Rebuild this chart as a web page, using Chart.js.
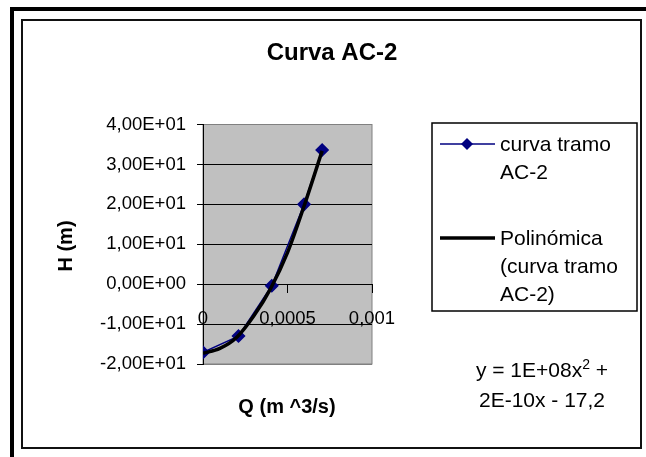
<!DOCTYPE html>
<html>
<head>
<meta charset="utf-8">
<script src="https://cdn.jsdelivr.net/npm/chart.js@4.4.0/dist/chart.umd.min.js"></script>
<style>
  html, body { margin: 0; padding: 0; background: #fff; }
  #wrap { width: 646px; height: 457px; position: relative; }
</style>
</head>
<body>
<div id="wrap"><canvas id="curveChart" width="646" height="457"></canvas></div>
<script>
// values
const chartTitle = 'Curva AC-2';
const xTitle = 'Q (m ^3/s)';
const yTitle = 'H (m)';
const seriesLabels = ['curva tramo AC-2', 'Polinómica (curva tramo AC-2)'];

const qValues = [0, 0.00021, 0.000407, 0.000598, 0.000705];
const hValues = [-17.1, -13.0, -0.4, 20.0, 33.6];

// trend line as drawn in the picture
const trendQ = [0, 0.0001, 0.0002, 0.0003, 0.0004, 0.0005, 0.0006, 0.000705];
const trendH = [-17.3, -16.1, -13.3, -8.0, -1.1, 7.9, 19.8, 33.4];

const yTickLabels = ['-2,00E+01', '-1,00E+01', '0,00E+00', '1,00E+01', '2,00E+01', '3,00E+01', '4,00E+01'];
const xTickLabels = ['0', '0,0005', '0,001'];

const equationLines = [['y = 1E+08x', '2', ' +'], ['2E-10x - 17,2']];

const FONT = '"Liberation Sans", Arial, sans-serif';
const NAVY = '#000080';

function wrapText(ctx, text, maxW) {
  const words = text.split(' ');
  const lines = [];
  let cur = '';
  words.forEach(w => {
    const test = cur ? cur + ' ' + w : w;
    if (ctx.measureText(test).width > maxW && cur) {
      lines.push(cur);
      cur = w;
    } else {
      cur = test;
    }
  });
  if (cur) lines.push(cur);
  return lines;
}

const decorPlugin = {
  id: 'decor',
  beforeDraw(chart) {
    const { ctx, chartArea: a } = chart;
    ctx.save();
    ctx.fillStyle = '#fff';
    ctx.fillRect(0, 0, chart.width, chart.height);
    // outer frame (top + left only visible)
    ctx.fillStyle = '#000';
    ctx.fillRect(10, 7, chart.width - 10, 4);
    ctx.fillRect(10, 7, 4, chart.height - 7);
    // inner frame
    ctx.strokeStyle = '#111';
    ctx.lineWidth = 2;
    ctx.strokeRect(22, 20, 619, 428);
    // plot area
    ctx.fillStyle = '#c0c0c0';
    ctx.fillRect(a.left, a.top, a.right - a.left, a.bottom - a.top);
    ctx.strokeStyle = '#808080';
    ctx.lineWidth = 1;
    ctx.strokeRect(a.left, a.top, a.right - a.left, a.bottom - a.top);
    ctx.restore();
  },
  afterDraw(chart) {
    const { ctx } = chart;
    ctx.save();
    ctx.fillStyle = '#000';

    // title
    ctx.font = 'bold 24px ' + FONT;
    ctx.textAlign = 'center';
    ctx.textBaseline = 'alphabetic';
    ctx.fillText(chartTitle, 332, 60);

    // axis titles
    ctx.font = 'bold 20px ' + FONT;
    ctx.fillText(xTitle, 287, 413);
    ctx.save();
    ctx.translate(72, 246);
    ctx.rotate(-Math.PI / 2);
    ctx.fillText(yTitle, 0, 0);
    ctx.restore();

    // legend
    const lx = 432, ly = 123, lw = 205, lh = 188;
    ctx.strokeStyle = '#000';
    ctx.lineWidth = 1.5;
    ctx.strokeRect(lx, ly, lw, lh);
    ctx.font = '21px ' + FONT;
    ctx.textAlign = 'left';
    const lineH = 28;
    const entryY = [151, 245];
    chart.data.datasets.forEach((ds, i) => {
      const lines = wrapText(ctx, seriesLabels[i], 132);
      const midY = entryY[i] - 7;
      ctx.beginPath();
      ctx.strokeStyle = ds.borderColor;
      ctx.lineWidth = ds.borderWidth;
      ctx.moveTo(440, midY);
      ctx.lineTo(495, midY);
      ctx.stroke();
      if (ds.pointRadius > 0) {
        ctx.beginPath();
        ctx.fillStyle = ds.pointBackgroundColor;
        ctx.moveTo(467, midY - 6);
        ctx.lineTo(473, midY);
        ctx.lineTo(467, midY + 6);
        ctx.lineTo(461, midY);
        ctx.closePath();
        ctx.fill();
      }
      ctx.fillStyle = '#000';
      lines.forEach((t, k) => ctx.fillText(t, 500, entryY[i] + k * lineH));
    });

    // trend equation
    const cx = 542;
    const l1 = equationLines[0];
    ctx.font = '21px ' + FONT;
    const w0 = ctx.measureText(l1[0]).width;
    const w2 = ctx.measureText(l1[2]).width;
    ctx.font = '14px ' + FONT;
    const w1 = ctx.measureText(l1[1]).width;
    let x = cx - (w0 + w1 + w2) / 2;
    ctx.textAlign = 'left';
    ctx.font = '21px ' + FONT;
    ctx.fillText(l1[0], x, 377);
    x += w0;
    ctx.font = '14px ' + FONT;
    ctx.fillText(l1[1], x, 369);
    x += w1;
    ctx.font = '21px ' + FONT;
    ctx.fillText(l1[2], x, 377);
    ctx.textAlign = 'center';
    ctx.fillText(equationLines[1][0], cx, 407);

    ctx.restore();
  }
};

new Chart(document.getElementById('curveChart'), {
  type: 'scatter',
  data: {
    datasets: [
      {
        label: seriesLabels[0],
        data: qValues.map((q, i) => ({ x: q, y: hValues[i] })),
        showLine: true,
        borderColor: NAVY,
        backgroundColor: NAVY,
        pointBackgroundColor: NAVY,
        pointBorderColor: NAVY,
        borderWidth: 1.5,
        pointStyle: 'rectRot',
        pointRadius: 6,
        order: 1
      },
      {
        label: seriesLabels[1],
        data: trendQ.map((q, i) => ({ x: q, y: trendH[i] })),
        showLine: true,
        borderColor: '#000',
        backgroundColor: '#000',
        borderWidth: 3.5,
        pointRadius: 0,
        cubicInterpolationMode: 'monotone',
        order: 0
      }
    ]
  },
  options: {
    responsive: false,
    animation: false,
    events: [],
    layout: { padding: { left: 0, top: 124.5, right: 274, bottom: 93 } },
    plugins: { legend: { display: false }, tooltip: { enabled: false }, title: { display: false } },
    scales: {
      x: {
        type: 'linear',
        position: { y: 0 },
        min: 0,
        max: 0.001,
        afterFit: s => { s.height = 0; },
        afterBuildTicks: s => { s.ticks = [0, 0.0005, 0.001].map(v => ({ value: v })); },
        ticks: {
          callback: (v, i) => xTickLabels[i],
          color: '#000',
          font: { family: FONT, size: 18.5 },
          padding: 16,
          maxRotation: 0,
          autoSkip: false
        },
        grid: { drawOnChartArea: false, color: '#000', tickLength: 8, lineWidth: 1 },
        border: { display: true, color: '#000', width: 1 }
      },
      y: {
        type: 'linear',
        min: -20,
        max: 40,
        afterFit: s => { s.width = 203; },
        ticks: {
          stepSize: 10,
          callback: (v, i) => yTickLabels[i],
          color: '#000',
          font: { family: FONT, size: 18.5 },
          padding: 11
        },
        grid: {
          color: c => (c.index === 0 || c.index === yTickLabels.length - 1) ? '#808080' : '#000',
          lineWidth: 1,
          tickLength: 6,
          tickColor: '#000'
        },
        border: { display: true, color: '#000', width: 1 }
      }
    }
  },
  plugins: [decorPlugin]
});
</script>
</body>
</html>
